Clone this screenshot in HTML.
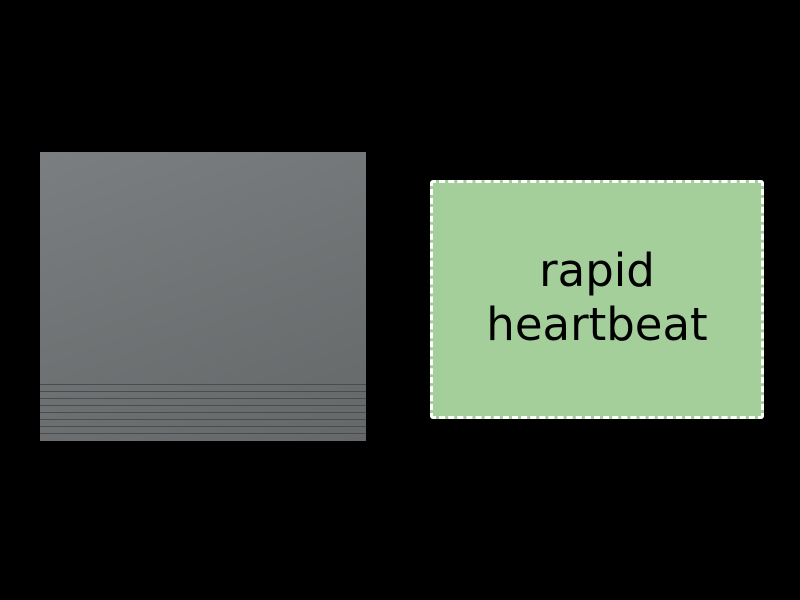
<!DOCTYPE html>
<html><head><style>
html,body{margin:0;padding:0;background:#000;width:800px;height:600px;overflow:hidden}
.g{position:absolute;left:40px;top:152px;width:326px;height:289px;background:linear-gradient(160deg,#7b7e80,#656869)}
.l{position:absolute;left:0;width:326px;height:1px;background:#4a4c4e}
.b{position:absolute;left:430px;top:180px;width:328px;height:233px;border:3px dashed #fff;border-radius:3px;background:#a5cf9a;box-sizing:content-box}
.t{position:absolute;left:0;top:-2px;width:100%;height:100%;display:flex;align-items:center;justify-content:center;text-align:center;font-family:"DejaVu Sans","Liberation Sans",sans-serif;font-size:45px;line-height:54px;color:#000}
</style></head><body>
<div class="g">
<div class="l" style="top:232px"></div>
<div class="l" style="top:239px"></div>
<div class="l" style="top:246px"></div>
<div class="l" style="top:253px"></div>
<div class="l" style="top:260px"></div>
<div class="l" style="top:267px"></div>
<div class="l" style="top:274px"></div>
<div class="l" style="top:281px"></div>
</div>
<div class="b"><div class="t">rapid<br>heartbeat</div></div>
</body></html>
